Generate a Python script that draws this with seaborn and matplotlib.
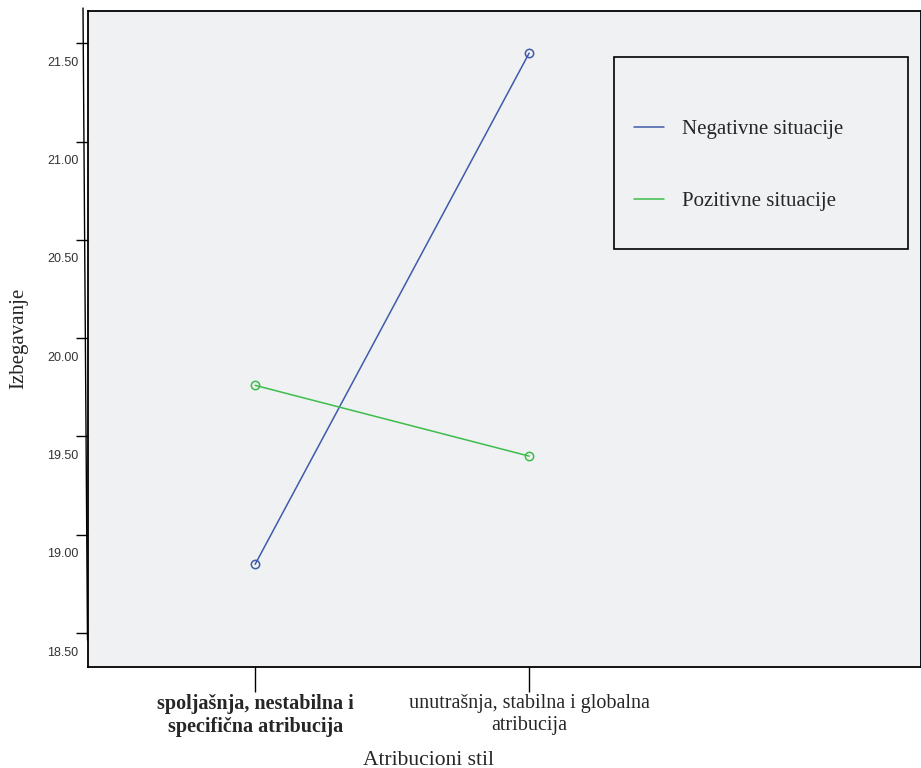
import pandas as pd
import seaborn as sns
import matplotlib.pyplot as plt
from matplotlib.lines import Line2D
from matplotlib.patches import Rectangle
from matplotlib.transforms import ScaledTranslation

# Podaci
kategorije = ['spoljašnja, nestabilna i\nspecifična atribucija',
              'unutrašnja, stabilna i globalna\natribucija']
negativne = [18.85, 21.45]
pozitivne = [19.76, 19.40]
serije = ['Negativne situacije', 'Pozitivne situacije']
y_ticks = [18.5, 19.0, 19.5, 20.0, 20.5, 21.0, 21.5]

boje = {'Negativne situacije': '#3f5bab', 'Pozitivne situacije': '#3dbd4b'}

df = pd.DataFrame({
    'Atribucioni stil': kategorije * 2,
    'Izbegavanje': negativne + pozitivne,
    'Situacija': [serije[0]] * 2 + [serije[1]] * 2,
})

sns.set_style('white')
plt.rcParams['font.family'] = ['Liberation Serif', 'DejaVu Serif']

fig = plt.figure(figsize=(9.21, 7.68), dpi=100)
ax = fig.add_axes([88 / 921, 1 - 666.7 / 768, 833 / 921, (666.7 - 11) / 768])
ax.set_facecolor('#f0f1f2')

sns.lineplot(data=df, x='Atribucioni stil', y='Izbegavanje', hue='Situacija',
             palette=boje, marker='o', markersize=6, markerfacecolor='none',
             markeredgewidth=1.1, linewidth=1.1, ax=ax, legend=False, sort=False)
for ln in ax.lines:
    ln.set_markeredgecolor(ln.get_color())

for s in ax.spines.values():
    s.set_color('black')
    s.set_linewidth(1.3)

ax.set_xlim(-0.61, 2.43)
ax.set_ylim(18.329, 21.664)

ax.set_xticks([0, 1])
ax.set_xticklabels(kategorije, fontsize=14.5, linespacing=1.2)
ax.get_xticklabels()[0].set_fontweight('bold')
ax.tick_params(axis='x', direction='out', length=18, width=1, color='black', pad=2, bottom=True)

ax.set_yticks(y_ticks)
ax.set_yticklabels([f'{v:.2f}' for v in y_ticks], fontsize=9, family='Liberation Sans', color='#333333')
ax.tick_params(axis='y', direction='out', length=9, width=1, color='black', pad=-2, left=True)
pomak = ScaledTranslation(0, -18 / 100, fig.dpi_scale_trans)
for lbl in ax.get_yticklabels():
    lbl.set_transform(lbl.get_transform() + pomak)

ax.set_xlabel('Atribucioni stil', fontsize=15.5)
ax.xaxis.set_label_coords(0.409, -0.128)
ax.set_ylabel('Izbegavanje', fontsize=15)
ax.yaxis.set_label_coords(-0.072, 0.5)

# okvir legende
ax.add_patch(Rectangle((0.632, 0.637), 0.352, 0.293, transform=ax.transAxes,
                       facecolor='none', edgecolor='black', linewidth=1.2, zorder=5))
handles = [Line2D([], [], color=boje[s], linewidth=1.1) for s in serije]
leg = ax.legend(handles, serije, loc='upper left', bbox_to_anchor=(0.655, 0.834),
                fontsize=15, frameon=False, borderpad=0, borderaxespad=0,
                labelspacing=2.5, handlelength=1.45, handletextpad=0.85)

# tanka kosa linija uz lijevu osu
fig.add_artist(Line2D([83 / 921, 87.5 / 921], [1 - 8 / 768, 1 - 640 / 768],
                      color='black', linewidth=1))

fig.savefig('out.png', dpi=100)
